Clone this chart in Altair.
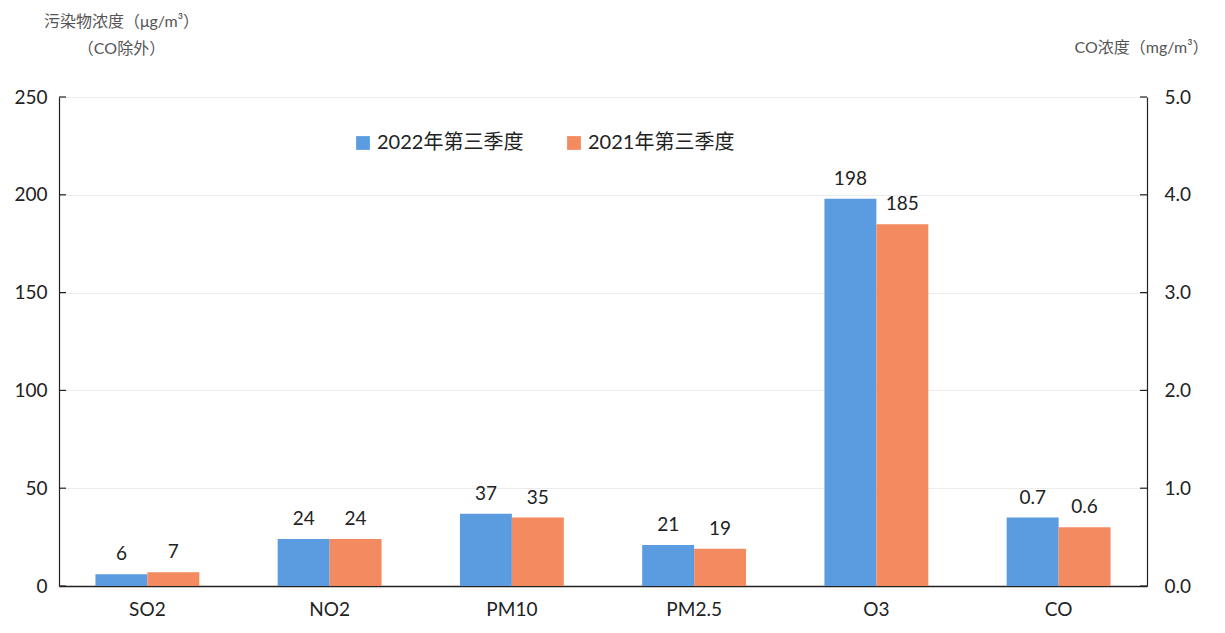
import altair as alt
import pandas as pd

pollutants = ["SO2", "NO2", "PM10", "PM2.5", "O3", "CO"]
v2022 = [6, 24, 37, 21, 198, 0.7]
v2021 = [7, 24, 35, 19, 185, 0.6]
series = ["2022年第三季度", "2021年第三季度"]
colors = ["#5b9bdf", "#f48a5f"]
left_ticks = [0, 50, 100, 150, 200, 250]
right_ticks = [0, 1, 2, 3, 4, 5]

rows = []
for p, a, b in zip(pollutants, v2022, v2021):
    for s, v in zip(series, (a, b)):
        rows.append({"pollutant": p, "series": s, "value": v,
                     "label": f"{v:.1f}" if p == "CO" else f"{v:.0f}"})
df = pd.DataFrame(rows)
left_df = df[df.pollutant != "CO"]
right_df = df[df.pollutant == "CO"]
lt_df = pd.DataFrame({"value": left_ticks})
rt_df = pd.DataFrame({"value": right_ticks})

FONT = "Lato, 'Noto Sans CJK SC', sans-serif"
W, H = 1088, 489
TXT = "#222222"

x = alt.X("pollutant:N", sort=pollutants,
          scale=alt.Scale(domain=pollutants, paddingInner=0.43, paddingOuter=0.2),
          axis=alt.Axis(title=None, labelAngle=0, labelFontSize=19, labelPadding=14,
                        ticks=False, domainColor=TXT, domainWidth=1.5, labelColor=TXT))
xo = alt.XOffset("series:N", sort=series, scale=alt.Scale(domain=series))
color = alt.Color("series:N", sort=series,
                  scale=alt.Scale(domain=series, range=colors),
                  legend=alt.Legend(title=None, orient="none", legendX=294, legendY=36,
                                    direction="horizontal", symbolType="square",
                                    symbolSize=190, symbolStrokeWidth=0,
                                    labelFontSize=20, columnPadding=40, labelColor=TXT))

yl_scale = alt.Scale(domain=[0, 250], nice=False)
yr_scale = alt.Scale(domain=[0, 5], nice=False)

yl = alt.Y("value:Q", scale=yl_scale,
           axis=alt.Axis(values=left_ticks, title=["污染物浓度（μg/m³）", "（CO除外）"],
                         titleAngle=0, titleX=62, titleY=-84, titleAlign="center",
                         titleBaseline="top", titleLineHeight=27, titleFontSize=16,
                         titleFontWeight="normal", titleColor="#555555",
                         labelFontSize=19, labelPadding=12, labelColor=TXT,
                         ticks=False, grid=True, gridColor="#ececec",
                         domainColor=TXT, domainWidth=1.2))
yr = alt.Y("value:Q", scale=yr_scale,
           axis=alt.Axis(orient="right", values=right_ticks, format=".1f",
                         title="CO浓度（mg/m³）", titleAngle=0, titleX=-6, titleY=-50,
                         titleAlign="center", titleBaseline="middle", titleFontSize=16,
                         titleFontWeight="normal", titleColor="#555555",
                         labelFontSize=19, labelPadding=17, labelColor=TXT,
                         ticks=False, grid=False, domainColor=TXT, domainWidth=1.2))

lbars = alt.Chart(left_df).mark_bar().encode(x=x, xOffset=xo, y=yl, color=color)
ltext = alt.Chart(left_df).mark_text(dy=-10, baseline="bottom", fontSize=19,
                                     font=FONT, color=TXT).encode(
    x=x, xOffset=xo, y=alt.Y("value:Q", scale=yl_scale), text="label:N")
lticks = alt.Chart(lt_df).mark_rule(color=TXT, strokeWidth=1.2).encode(
    y=alt.Y("value:Q", scale=yl_scale), x=alt.value(0), x2=alt.value(7))

rbars = alt.Chart(right_df).mark_bar().encode(x=x, xOffset=xo, y=yr, color=color)
rtext = alt.Chart(right_df).mark_text(dy=-10, baseline="bottom", fontSize=19,
                                      font=FONT, color=TXT).encode(
    x=x, xOffset=xo, y=alt.Y("value:Q", scale=yr_scale), text="label:N")
rticks = alt.Chart(rt_df).mark_rule(color=TXT, strokeWidth=1.2).encode(
    y=alt.Y("value:Q", scale=yr_scale), x=alt.value(W - 7), x2=alt.value(W))

left = alt.layer(lbars, ltext, lticks)
right = alt.layer(rbars, rtext, rticks)

chart = (alt.layer(left, right)
         .resolve_scale(y="independent")
         .properties(width=W, height=H, background="white")
         .configure_view(stroke=None)
         .configure_axis(labelFont=FONT, titleFont=FONT)
         .configure_legend(labelFont=FONT))

chart.save("out.html", embed_options={"renderer": "svg", "actions": False})
